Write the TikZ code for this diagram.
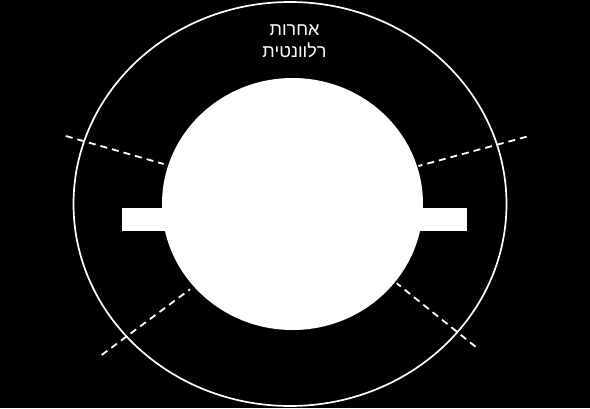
\documentclass[tikz,border=0pt]{standalone}
\usepackage{fontspec}
\newfontfamily\hebfont[Script=Hebrew]{Liberation Sans}
\TeXXeTstate=1
\usetikzlibrary{positioning}
\begin{document}
\begin{tikzpicture}[x=1pt, y=-1pt]
    \fill[black] (0,0) rectangle (590,408);%background
    \useasboundingbox (0,0) rectangle (590,408);
    % =============== dashed cuts ====================
    \coordinate (ulo) at (65.8,136);
    \coordinate (uli) at (163.7,164);
    \coordinate (uro) at (526.7,136.7);
    \coordinate (uri) at (418.4,166);
    \coordinate (llo) at (101.7,355);
    \coordinate (lli) at (190,289.3);
    \coordinate (lro) at (475.5,346.7);
    \coordinate (lri) at (396.8,283.3);
    \draw[white, line width=1.8pt, dash pattern=on 7pt off 5pt] (ulo) -- (uli);%upper left cut
    \draw[white, line width=1.8pt, dash pattern=on 7pt off 5pt] (uro) -- (uri);%upper right cut
    \draw[white, line width=1.8pt, dash pattern=on 7pt off 5pt] (llo) -- (lli);%lower left cut
    \draw[white, line width=1.8pt, dash pattern=on 7pt off 5pt] (lro) -- (lri);%lower right cut
    % =============== ring and disc ====================
    \draw[white, line width=1.7pt] (290,204) ellipse [x radius=216.5, y radius=202];%outer ring
    \fill[white] (292.5,204) ellipse [x radius=130.5, y radius=126];%inner disc
    \fill[white] (121.5,208.3) rectangle (466.5,231);%bar through disc
    \node (lbl) [text=white, align=center, font=\hebfont\fontsize{18}{22}\selectfont] at (294.5,41) {\beginR אחרות\endR\\\beginR רלוונטית\endR};%label
\end{tikzpicture}
\end{document}
